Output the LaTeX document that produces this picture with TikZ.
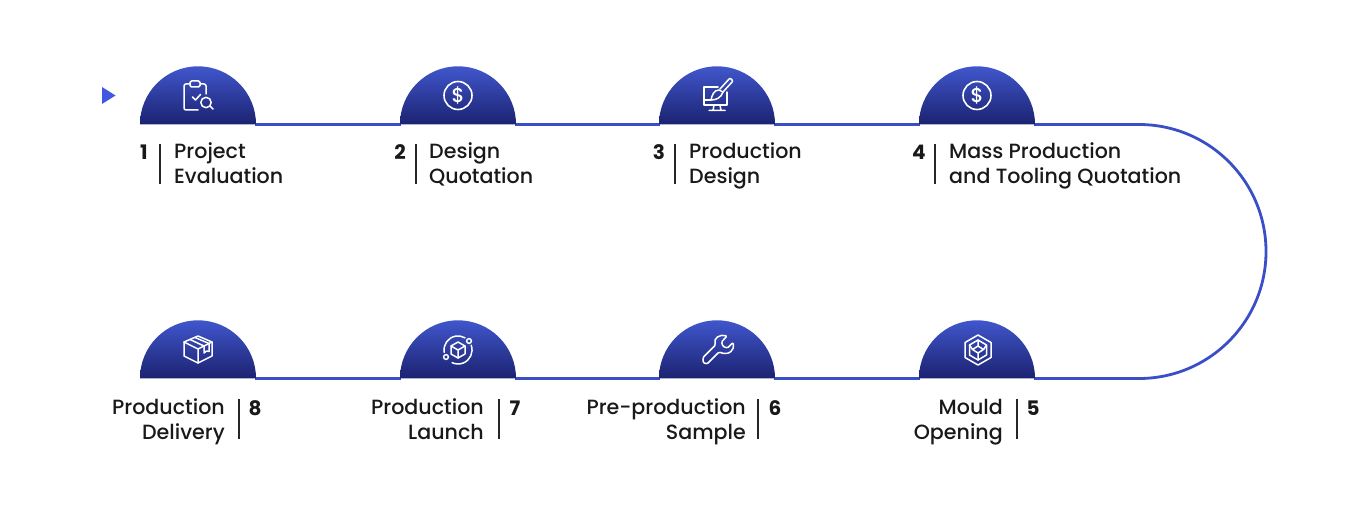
\documentclass[tikz,border=0pt]{standalone}
\usepackage{fontspec}
\setmainfont{Poppins}[UprightFont=* Medium, BoldFont=* Bold]
\usetikzlibrary{shapes.geometric,backgrounds}
\definecolor{flowblue}{RGB}{58,78,200}
\definecolor{startblue}{RGB}{66,88,224}
\definecolor{domelight}{RGB}{64,86,204}
\definecolor{domedark}{RGB}{27,34,112}
\newcommand{\twolines}[2]{\strut #1\\\strut #2}

\begin{document}
\begin{tikzpicture}[x=1pt,y=-1pt]
        % Define styles
        \tikzset{
            dome/.style={semicircle, anchor=chord center, minimum width=116pt, inner sep=0pt, top color=domelight, bottom color=domedark},
            flow/.style={draw=flowblue, line width=2.8pt},
            stepnum/.style={font=\fontsize{20}{24}\selectfont\bfseries, inner sep=0pt, text=black!90},
            divider/.style={fill=black!85, minimum width=1.3pt, minimum height=40pt, inner sep=0pt},
            toplabel/.style={anchor=west, align=left, inner sep=0pt, text=black!90, font=\fontsize{20.6}{24.8}\selectfont},
            botlabel/.style={anchor=east, align=right, inner sep=0pt, text=black!90, font=\fontsize{20.6}{24.8}\selectfont},
            icon/.style={draw=white, line width=1.5pt, line join=round, line cap=round},
            dollar/.style={circle, draw=white, line width=1.6pt, minimum size=28pt, inner sep=0pt, text=white, font=\fontsize{20}{20}\selectfont}
        }
        \useasboundingbox (0,0) rectangle (1367,524);

        % Start marker
        \fill[startblue] (102,87) -- (115.5,95.5) -- (102,104) -- cycle;

        % Domes
        \node[dome] (dome_1) at (198,124.5) {};
        \node[dome] (dome_2) at (458,124.5) {};
        \node[dome] (dome_3) at (717,124.5) {};
        \node[dome] (dome_4) at (977,124.5) {};
        \node[dome] (dome_5) at (977,378.5) {};
        \node[dome] (dome_6) at (717,378.5) {};
        \node[dome] (dome_7) at (458,378.5) {};
        \node[dome] (dome_8) at (198,378.5) {};

        % Connector
        \coordinate (bend_top) at (1139,124.5);
        \coordinate (bend_bottom) at (1139,378.5);
        \begin{scope}[on background layer]
            \draw[flow] ([xshift=57pt]dome_1.chord center) -- ([xshift=-57pt]dome_2.chord center);
            \draw[flow] ([xshift=57pt]dome_2.chord center) -- ([xshift=-57pt]dome_3.chord center);
            \draw[flow] ([xshift=57pt]dome_3.chord center) -- ([xshift=-57pt]dome_4.chord center);
            \draw[flow] ([xshift=57pt]dome_4.chord center) -- (bend_top) arc (-90:90:127) -- ([xshift=57pt]dome_5.chord center);
            \draw[flow] ([xshift=-57pt]dome_5.chord center) -- ([xshift=57pt]dome_6.chord center);
            \draw[flow] ([xshift=-57pt]dome_6.chord center) -- ([xshift=57pt]dome_7.chord center);
            \draw[flow] ([xshift=-57pt]dome_7.chord center) -- ([xshift=57pt]dome_8.chord center);
        \end{scope}

        % Top labels
        \node[stepnum] (num_1) at (144,152) {1};
        \node[divider] (div_1) at (160,164) {};
        \node[toplabel] (label_1) at (174,166) {\twolines{Project}{Evaluation}};
        \node[stepnum] (num_2) at (400,152) {2};
        \node[divider] (div_2) at (416,164) {};
        \node[toplabel] (label_2) at (429,166) {\twolines{Design}{Quotation}};
        \node[stepnum] (num_3) at (659,152) {3};
        \node[divider] (div_3) at (675,164) {};
        \node[toplabel] (label_3) at (689,166) {\twolines{Production}{Design}};
        \node[stepnum] (num_4) at (919,152) {4};
        \node[divider] (div_4) at (935,164) {};
        \node[toplabel] (label_4) at (949,166) {\twolines{Mass Production}{and Tooling Quotation}};

        % Bottom labels
        \node[stepnum] (num_5) at (1033,408) {5};
        \node[divider] (div_5) at (1017,419) {};
        \node[botlabel] (label_5) at (1003,422) {\twolines{Mould}{Opening}};
        \node[stepnum] (num_6) at (775,408) {6};
        \node[divider] (div_6) at (758,419) {};
        \node[botlabel] (label_6) at (746,422) {\twolines{Pre-production}{Sample}};
        \node[stepnum] (num_7) at (515,408) {7};
        \node[divider] (div_7) at (499,419) {};
        \node[botlabel] (label_7) at (484,422) {\twolines{Production}{Launch}};
        \node[stepnum] (num_8) at (255,408) {8};
        \node[divider] (div_8) at (239,419) {};
        \node[botlabel] (label_8) at (225,422) {\twolines{Production}{Delivery}};

        % Icon 1: clipboard
        \draw[icon, rounded corners=2pt] (200,84) -- (206,84) -- (206,94);
        \draw[icon, rounded corners=2pt] (198,110) -- (184,110) -- (184,84) -- (190,84);
        \draw[icon, rounded corners=1.5pt] (190,81) rectangle (200,87);
        \draw[icon] (192.5,97) -- (195.5,100) -- (200.5,94.5);
        \draw[icon] (206,102.5) circle (5.2);
        \draw[icon] (210,106) -- (213,109);

        % Icons 2 and 4: dollar
        \node[dollar] (dollar_2) at (458,95.5) {\$};
        \node[dollar] (dollar_4) at (977,95.5) {\$};

        % Icon 3: monitor and brush
        \draw[icon] (718,87) -- (704,87) -- (704,105) -- (727,105) -- (727,92);
        \draw[icon] (704,100) -- (711,100);
        \draw[icon] (714,105) -- (713,110.5) (720,105) -- (721,110.5) (709,110.5) -- (725,110.5);
        \draw[icon, rounded corners=1pt] (720,89) -- (730,78) -- (733,81) -- (723,92);
        \draw[icon] (719,90) .. controls (714,90) and (712,95) .. (711,100) .. controls (716,100) and (721,98) .. (723,92) -- cycle;

        % Icon 8: parcel
        \draw[icon] (198,336) -- (212,342) -- (212,356) -- (198,363) -- (184,356) -- (184,342) -- cycle;
        \draw[icon] (184,342) -- (198,349) -- (212,342) (198,349) -- (198,363);
        \draw[icon] (190,339.5) -- (204,346) -- (204,353) -- (206.5,351) -- (209,351.5) -- (209,343.5) -- (195,337.5);

        % Icon 7: launch cycle
        \draw[icon] (444.2,352.4) arc (170:300:14);
        \draw[icon] (471.2,345.2) arc (-20:115:14);
        \draw[icon] (469,341) circle (2.4);
        \draw[icon] (446,357) circle (2.4);
        \draw[icon] (458,342) -- (465,346) -- (465,354) -- (458,358) -- (451,354) -- (451,346) -- cycle;
        \draw[icon] (451,346) -- (458,350) -- (465,346) (458,350) -- (458,358);

        % Icon 6: wrench
        \draw[icon, rounded corners=1.2pt] (703,357.5) -- (715.5,345) .. controls (713,338) and (720,334) .. (727,336) -- (721.5,342) -- (723,346.5) -- (727.5,348) -- (733,342.5) .. controls (735,350) and (729,356) .. (719,352) -- (707,364) -- (703,362.5) -- cycle;

        % Icon 5: hex cube
        \draw[icon] (978,335) -- (991,342.5) -- (991,357.5) -- (978,365) -- (965,357.5) -- (965,342.5) -- cycle;
        \draw[icon] (978,340) -- (986.5,345) -- (986.5,355) -- (978,360) -- (969.5,355) -- (969.5,345) -- cycle;
        \draw[icon] (978,340) -- (978,346) -- (972.5,349.5) -- (978,353) -- (978,360) (978,346) -- (983.5,349.5) -- (978,353) (969.5,345) -- (972.5,349.5) (986.5,345) -- (983.5,349.5);
    \end{tikzpicture}
\end{document}
